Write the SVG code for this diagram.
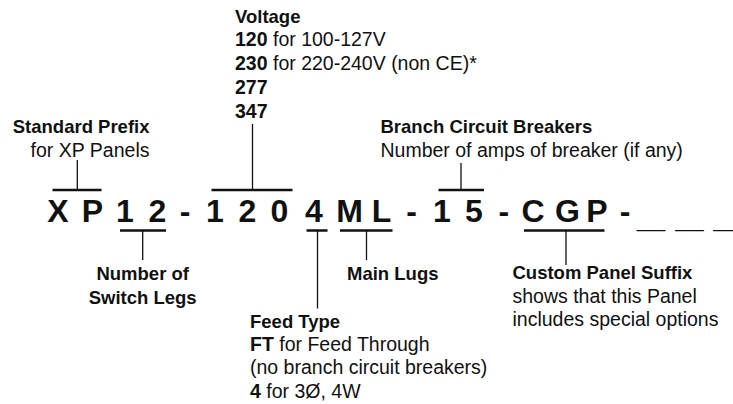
<svg xmlns="http://www.w3.org/2000/svg" width="733" height="404" viewBox="0 0 733 404">
<style>
  text { font-family: "Liberation Sans", Arial, sans-serif; fill: #111; }
  .h { font-weight: bold; font-size: 18.5px; }
  .r { font-size: 19.5px; }
  .b { font-weight: bold; }
  .code { font-weight: bold; font-size: 32px; text-anchor: middle; }
  .us { font-weight: bold; font-size: 34px; }
  .hl { stroke: #111; stroke-width: 2.5; fill: none; }
  .vl { stroke: #111; stroke-width: 1.3; fill: none; }
</style>
<rect width="733" height="404" fill="#fff"/>

<g id="connectors">
  <!-- Standard Prefix -->
  <line class="hl" x1="52.5" y1="190" x2="101.5" y2="190"/>
  <line class="vl" x1="77.3" y1="160" x2="77.3" y2="190"/>
  <!-- Voltage -->
  <line class="hl" x1="211.5" y1="190" x2="292.5" y2="190"/>
  <line class="vl" x1="252.5" y1="124" x2="252.5" y2="190"/>
  <!-- Branch Circuit Breakers -->
  <line class="hl" x1="438.5" y1="190" x2="484" y2="190"/>
  <line class="vl" x1="461" y1="163" x2="461" y2="190"/>
  <!-- Number of Switch Legs -->
  <line class="hl" x1="120" y1="230.5" x2="166" y2="230.5"/>
  <line class="vl" x1="142.7" y1="230.5" x2="142.7" y2="260"/>
  <!-- Feed Type -->
  <line class="hl" x1="306.5" y1="230.5" x2="327.5" y2="230.5"/>
  <line class="vl" x1="317.5" y1="230.5" x2="317.5" y2="308.5"/>
  <!-- Main Lugs -->
  <line class="hl" x1="340" y1="230.5" x2="392.5" y2="230.5"/>
  <line class="vl" x1="366.5" y1="230.5" x2="366.5" y2="260"/>
  <!-- Custom Panel Suffix -->
  <line class="hl" x1="524" y1="230.5" x2="604.5" y2="230.5"/>
  <line class="vl" x1="566" y1="230.5" x2="566" y2="265"/>
</g>

<g id="code">
  <text class="code" x="58 92.5 125 157.5 185 215 247.5 279.5 314 349.5 381.5 411.5 442 474 503.8 533 567.5 597 625" y="222">XP12-1204ML-15-CGP-</text>
  <text class="us" x="637" y="226.5" textLength="28" lengthAdjust="spacingAndGlyphs">_</text>
  <text class="us" x="675.5" y="226.5" textLength="28" lengthAdjust="spacingAndGlyphs">_</text>
  <text class="us" x="713.5" y="226.5" textLength="28" lengthAdjust="spacingAndGlyphs">_</text>
</g>

<g id="standard-prefix">
  <text class="h" x="149.5" y="132.7" text-anchor="end">Standard Prefix</text>
  <text class="r" x="149.5" y="156.7" text-anchor="end">for XP Panels</text>
</g>

<g id="voltage">
  <text class="h" x="235" y="22.5">Voltage</text>
  <text class="r" x="235" y="46"><tspan class="b">120</tspan> for 100-127V</text>
  <text class="r" x="235" y="70"><tspan class="b">230</tspan> for 220-240V (non CE)*</text>
  <text class="r b" x="235" y="94">277</text>
  <text class="r b" x="235" y="118">347</text>
</g>

<g id="branch-circuit-breakers">
  <text class="h" x="380.5" y="133">Branch Circuit Breakers</text>
  <text class="r" x="380.5" y="157">Number of amps of breaker (if any)</text>
</g>

<g id="switch-legs">
  <text class="h" x="142.7" y="280" text-anchor="middle">Number of</text>
  <text class="h" x="142.7" y="303.5" text-anchor="middle">Switch Legs</text>
</g>

<g id="main-lugs">
  <text class="h" x="347" y="280">Main Lugs</text>
</g>

<g id="feed-type">
  <text class="h" x="250" y="327.7">Feed Type</text>
  <text class="r" x="250" y="351"><tspan class="b">FT</tspan> for Feed Through</text>
  <text class="r" x="250" y="374.3">(no branch circuit breakers)</text>
  <text class="r" x="250" y="397.6"><tspan class="b">4</tspan> for 3Ø, 4W</text>
</g>

<g id="custom-panel-suffix">
  <text class="h" x="512.5" y="279.3">Custom Panel Suffix</text>
  <text class="r" x="512.5" y="303">shows that this Panel</text>
  <text class="r" x="512.5" y="326.3">includes special options</text>
</g>
</svg>
